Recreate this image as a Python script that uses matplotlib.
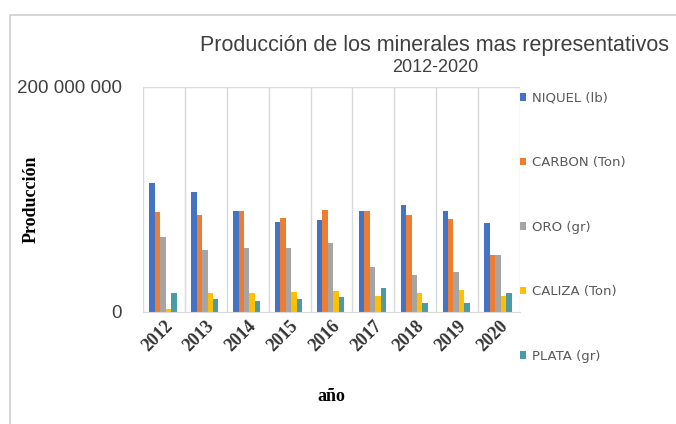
import numpy as np
import matplotlib
matplotlib.use("Agg")
import matplotlib.pyplot as plt
from matplotlib.patches import Rectangle
from matplotlib.ticker import FuncFormatter

years = ["2012", "2013", "2014", "2015", "2016", "2017", "2018", "2019", "2020"]
series = ["NIQUEL (lb)", "CARBON (Ton)", "ORO (gr)", "CALIZA (Ton)", "PLATA (gr)"]
niquel = [115e6, 107e6, 90e6, 80e6, 82e6, 90e6, 95e6, 90e6, 79e6]
carbon = [89e6, 86e6, 90e6, 84e6, 91e6, 90e6, 86e6, 83e6, 51e6]
oro = [67e6, 55e6, 57e6, 57e6, 61e6, 40e6, 33e6, 36e6, 51e6]
caliza = [3e6, 17e6, 17e6, 18e6, 19e6, 14e6, 17e6, 20e6, 14e6]
plata = [17e6, 12e6, 10e6, 12e6, 13e6, 21e6, 8e6, 8e6, 17e6]
colors = ["#4472C4", "#ED7D31", "#A5A5A5", "#FFC000", "#4A9AA8"]

fig = plt.figure(figsize=(6.76, 4.24), dpi=100)
fig.patches.append(Rectangle((10 / 676, -0.1), 1.1, 1 - 15 / 424 + 0.1,
                             transform=fig.transFigure, fill=False,
                             edgecolor="#D0D0D0", linewidth=1.2))
ax = fig.add_axes([143 / 676, 1 - 312 / 424, 377 / 676, 225 / 424])

x = np.arange(len(years))
w = 0.13
data = [niquel, carbon, oro, caliza, plata]
for i, (vals, name, c) in enumerate(zip(data, series, colors)):
    ax.bar(x - 0.35 + w * i + w / 2, vals, width=w, color=c, label=name)

ax.set_xlim(-0.5, len(years) - 0.5)
ax.set_ylim(0, 200e6)
ax.set_yticks([0, 200e6])
ax.yaxis.set_major_formatter(FuncFormatter(lambda v, p: f"{int(v):,}".replace(",", " ")))
ax.set_xticks(x)
ax.set_xticklabels(years, rotation=45, ha="right", rotation_mode="anchor",
                   family="Liberation Serif", fontweight="bold", fontsize=13)
for v in np.arange(-0.5, len(years), 1):
    ax.axvline(v, color="#D9D9D9", linewidth=1, zorder=0)
ax.axhline(200e6, color="#D9D9D9", linewidth=1, zorder=0)
for s in ax.spines.values():
    s.set_visible(False)
ax.spines["bottom"].set_visible(True)
ax.spines["bottom"].set_color("#D9D9D9")
ax.tick_params(length=0, labelcolor="#404040")
ax.tick_params(axis="y", pad=15, labelsize=13.5)
ax.tick_params(axis="x", pad=4, labelcolor="#333333")
for t in ax.get_yticklabels():
    t.set_family("Liberation Sans")

ax.set_ylabel("Producción", family="Liberation Serif", fontweight="bold", fontsize=13)
ax.yaxis.set_label_coords((40 - 143) / 377, 0.5)
ax.set_xlabel("año", family="Liberation Serif", fontweight="bold", fontsize=13)
ax.xaxis.set_label_coords(0.5, (312 - 388) / 225)

fig.text(435 / 676, 1 - 45 / 424, "Producción de los minerales mas representativos",
         ha="center", va="center", fontsize=15.5, color="#404040", family="Liberation Sans")
fig.text(435 / 676, 1 - 68 / 424, "2012-2020", ha="center", va="center",
         fontsize=13, color="#404040", family="Liberation Sans")

leg = fig.legend(loc="upper left", bbox_to_anchor=(508 / 676, 1 - 80 / 424),
                 frameon=False, fontsize=9.5, labelspacing=3.9, handlelength=0.5,
                 handleheight=0.5, handletextpad=0.4)
for t in leg.get_texts():
    t.set_color("#595959")

fig.savefig("out.png", dpi=100)
